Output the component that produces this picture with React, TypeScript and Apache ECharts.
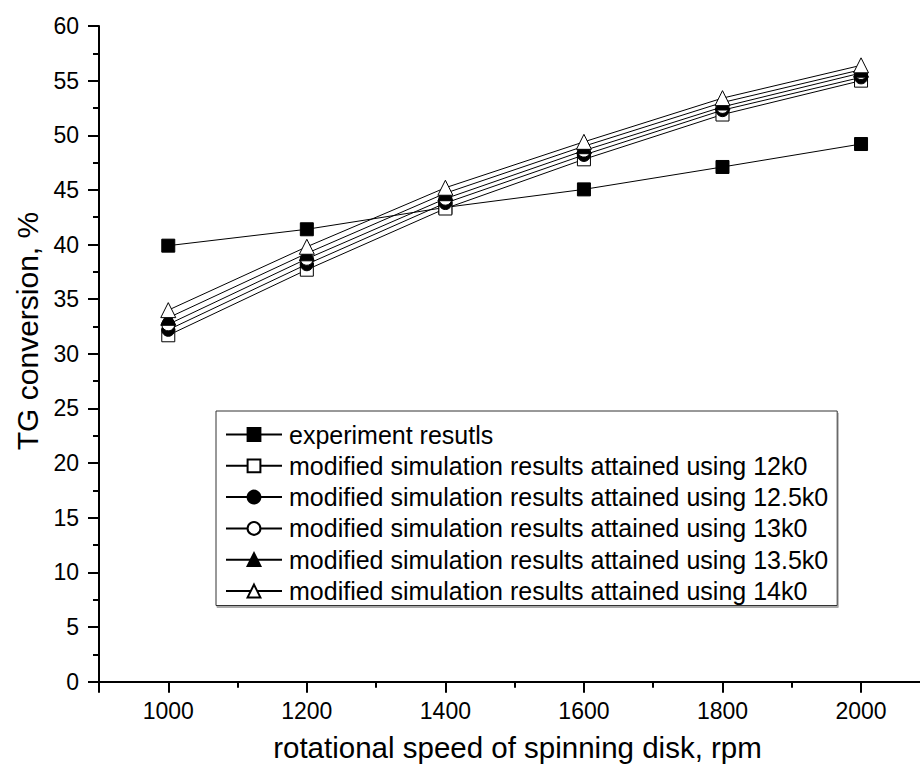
import React, { useEffect, useRef } from "react";
import * as echarts from "echarts";

const speeds = [1000, 1200, 1400, 1600, 1800, 2000];
const experiment = [39.9, 41.4, 43.4, 45.05, 47.1, 49.2];
const sim12 = [31.7, 37.7, 43.3, 47.8, 51.9, 55.0];
const sim125 = [32.2, 38.2, 43.8, 48.2, 52.3, 55.3];
const sim13 = [32.7, 38.7, 44.2, 48.6, 52.6, 55.7];
const sim135 = [33.3, 39.2, 44.7, 49.0, 53.0, 56.0];
const sim14 = [34.0, 39.8, 45.2, 49.4, 53.4, 56.4];

const seriesNames = [
  "experiment resutls",
  "modified simulation results attained using 12k0",
  "modified simulation results attained using 12.5k0",
  "modified simulation results attained using 13k0",
  "modified simulation results attained using 13.5k0",
  "modified simulation results attained using 14k0",
];
const seriesData = [experiment, sim12, sim125, sim13, sim135, sim14];
const symbols = ["rect", "rect", "circle", "circle", "triangle", "triangle"];
const filled = [true, false, true, false, true, false];
const yTitle = "TG conversion, %";
const xTitle = "rotational speed of spinning disk, rpm";

const FONT = "'Liberation Sans', Arial, sans-serif";

export default function App() {
  const ref = useRef<HTMLDivElement>(null);
  useEffect(() => {
    if (!ref.current) return;
    const chart = echarts.init(ref.current, undefined, { renderer: "svg" });
    const series = seriesNames.map((name, i) => ({
      name,
      type: "line",
      data: speeds.map((s, j) => [s, seriesData[i][j]]),
      symbol: symbols[i],
      symbolSize: symbols[i] === "triangle" ? 15 : 13,
      showAllSymbol: true,
      lineStyle: { color: "#000", width: 1 },
      itemStyle: {
        color: filled[i] ? "#000" : "#fff",
        borderColor: "#000",
        borderWidth: 1,
      },
      emphasis: { disabled: true },
      z: 2 + i,
    }));
    chart.setOption({
      animation: false,
      backgroundColor: "#fff",
      textStyle: { fontFamily: FONT },
      grid: {
        left: 99,
        right: -2,
        top: 26,
        bottom: 85.3,
        containLabel: false,
        outerBoundsMode: "none",
      },
      graphic: [
        {
          type: "text",
          x: 27,
          y: 331,
          rotation: Math.PI / 2,
          style: {
            text: yTitle,
            fontSize: 30,
            fontFamily: FONT,
            fill: "#000",
            textAlign: "center",
            textVerticalAlign: "middle",
          },
        },
      ],
      xAxis: {
        type: "value",
        min: 900,
        max: 2088,
        splitNumber: 6,
        name: xTitle,
        nameLocation: "middle",
        nameGap: 51,
        nameTextStyle: { fontSize: 29.5, color: "#000", fontFamily: FONT, padding: [0, 0, 0, 14] },
        axisLine: { lineStyle: { color: "#000", width: 2 } },
        axisTick: { show: true, inside: false, length: 11, lineStyle: { color: "#000", width: 2 } },
        minorTick: { show: true, splitNumber: 2, length: 6, lineStyle: { color: "#000", width: 2 } },
        splitLine: { show: false },
        minorSplitLine: { show: false },
        axisLabel: {
          fontSize: 23,
          color: "#000",
          margin: 18,
          fontFamily: FONT,
          showMinLabel: false,
          showMaxLabel: false,
          formatter: (v: number) => (v % 200 === 0 && v >= 1000 && v <= 2000 ? String(v) : ""),
        },
      },
      yAxis: {
        type: "value",
        min: 0,
        max: 60,
        interval: 5,
        axisLine: { show: true, lineStyle: { color: "#000", width: 2 } },
        axisTick: { show: true, inside: false, length: 11, lineStyle: { color: "#000", width: 2 } },
        minorTick: { show: true, splitNumber: 2, length: 6, lineStyle: { color: "#000", width: 2 } },
        splitLine: { show: false },
        minorSplitLine: { show: false },
        axisLabel: { fontSize: 23, color: "#000", margin: 20, fontFamily: FONT },
      },
      legend: {
        orient: "vertical",
        left: 216,
        top: 411,
        data: seriesNames,
        itemWidth: 56,
        itemHeight: 16,
        itemGap: 6.3,
        padding: [11, 9, 2, 9],
        borderColor: "#333",
        borderWidth: 1,
        backgroundColor: "#fff",
        shadowColor: "#aaa",
        shadowOffsetX: 1,
        shadowOffsetY: 2,
        shadowBlur: 0,
        selectedMode: false,
        textStyle: { fontSize: 25, color: "#000", fontFamily: FONT, padding: [0, 0, 0, 2] },
      },
      series,
    });
    return () => chart.dispose();
  }, []);
  return (
    <div
      ref={ref}
      style={{ position: "absolute", left: 0, top: 0, width: 920, height: 767, overflow: "hidden" }}
    />
  );
}
